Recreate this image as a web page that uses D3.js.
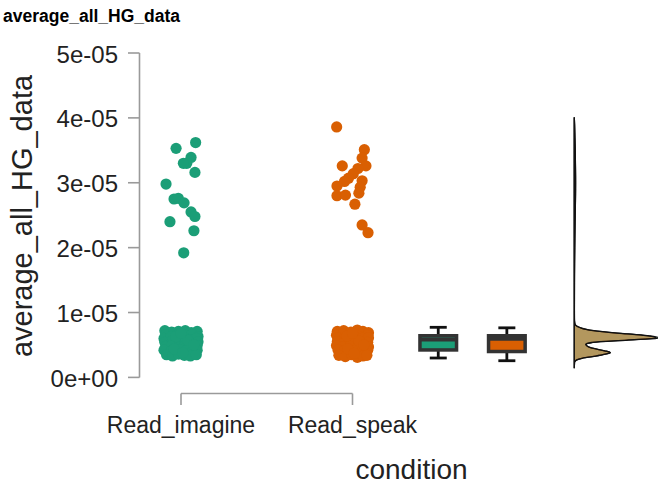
<!DOCTYPE html>
<html>
<head>
<meta charset="utf-8">
<script src="https://cdn.jsdelivr.net/npm/d3@7"></script>
<style>
  html, body { margin: 0; padding: 0; background: #fff; }
  svg { display: block; font-family: "Liberation Sans", Arial, sans-serif; }
</style>
</head>
<body>
<div id="chart"></div>
<script>
// ---- Data (values in units of 1e-6)
const conditions = ['Read_imagine', 'Read_speak'];
const colors = ['#1B9E77', '#D95F02'];
const yTicks = [0, 10, 20, 30, 40, 50];
const yTickLabels = ['0e+00', '1e-05', '2e-05', '3e-05', '4e-05', '5e-05'];

// high values, read point by point
const imagineHighValues = [35.3, 36.2, 33.9, 33.0, 33.0, 31.6, 29.8, 27.5, 27.6, 26.9, 25.5, 24.8, 24.0, 22.6, 19.2];
const imagineHighJitter = [-0.29, 0.86, 0.59, 0.34, 0.14, 0.82, -0.88, -0.41, -0.16, 0.18, 0.59, 0.82, -0.65, 0.76, 0.16];
const speakHighValues = [38.6, 35.1, 33.8, 32.6, 32.6, 32.2, 31.4, 30.7, 30.2, 30.3, 29.5, 29.3, 28.4, 28.0, 28.1, 26.7, 23.5, 22.3];
const speakHighJitter = [-0.99, 0.74, 0.60, -0.64, 0.84, 0.34, 0.05, -0.25, -0.50, 0.60, -0.97, 0.48, 0.40, -0.97, -0.44, 0.15, 0.60, 0.97];

// dense low cluster
const imagineLowValues = [
  7.2, 7.0, 7.1, 7.2, 6.9, 7.1,
  6.6, 6.4, 6.7, 6.5, 6.6, 6.3,
  6.0, 6.2, 5.9, 6.1, 5.8, 6.0,
  5.4, 5.6, 5.3, 5.5, 5.2, 5.5,
  4.8, 4.9, 4.6, 4.8, 4.7, 4.9,
  4.2, 4.0, 4.3, 4.1, 3.9, 4.2,
  3.5, 3.3, 3.6, 3.4, 3.3, 3.5,
  6.3, 5.7, 4.4, 3.8, 6.8, 5.0
];
const imagineLowJitter = [
  -0.95, -0.55, -0.15, 0.25, 0.6, 0.95,
  -0.9, -0.5, -0.1, 0.3, 0.65, 1.0,
  -1.0, -0.6, -0.2, 0.2, 0.55, 0.9,
  -0.95, -0.5, -0.15, 0.25, 0.6, 1.0,
  -0.9, -0.55, -0.2, 0.2, 0.6, 0.95,
  -1.0, -0.6, -0.1, 0.3, 0.65, 0.95,
  -0.85, -0.5, -0.15, 0.2, 0.55, 0.9,
  -0.3, 0.4, -0.4, 0.1, 0.0, 0.75
];
const speakLowValues = [
  7.1, 7.2, 7.0, 7.3, 7.1, 6.9,
  6.5, 6.7, 6.4, 6.6, 6.3, 6.5,
  6.1, 5.9, 6.2, 5.8, 6.0, 6.1,
  5.5, 5.3, 5.6, 5.4, 5.2, 5.4,
  4.9, 4.7, 4.8, 4.6, 4.9, 4.7,
  4.2, 4.1, 3.9, 4.3, 4.0, 4.2,
  3.4, 3.2, 3.5, 3.1, 3.3, 3.4,
  6.4, 5.6, 4.4, 3.7, 6.8, 5.0
];
const speakLowJitter = [
  -0.95, -0.55, -0.1, 0.3, 0.65, 1.0,
  -1.0, -0.6, -0.2, 0.2, 0.6, 0.95,
  -0.9, -0.5, -0.15, 0.25, 0.6, 1.0,
  -0.95, -0.55, -0.2, 0.2, 0.65, 0.95,
  -1.0, -0.6, -0.15, 0.3, 0.6, 1.0,
  -0.9, -0.5, -0.1, 0.25, 0.6, 0.95,
  -0.85, -0.45, -0.05, 0.3, 0.65, 0.9,
  -0.35, 0.4, -0.3, 0.1, 0.0, 0.7
];

// box summaries
const boxLow = [2.99, 2.57];
const boxQ1 = [4.23, 3.99];
const boxMedian = [5.84, 5.96];
const boxQ3 = [6.42, 6.42];
const boxHigh = [7.72, 7.64];

// density outline
const densityGrid = [1.4, 2.0, 2.4, 2.7, 3.0, 3.2, 3.5, 3.8, 4.1, 4.5, 4.8, 5.1, 5.4, 5.75, 6.1, 6.4, 6.7, 7.2, 7.6, 8.1, 8.6, 9.5, 12, 16, 20, 24, 27, 29, 31, 33, 35, 37, 39, 40.1];
const densityImagine = [0, 0.002, 0.006, 0.03, 0.11, 0.22, 0.35, 0.44, 0.37, 0.22, 0.16, 0.145, 0.23, 0.66, 1.04, 0.92, 0.66, 0.24, 0.09, 0.015, 0.004, 0.002, 0.002, 0.003, 0.006, 0.01, 0.014, 0.016, 0.016, 0.014, 0.012, 0.008, 0.004, 0];
const densitySpeak = [0, 0.002, 0.006, 0.03, 0.11, 0.22, 0.35, 0.44, 0.37, 0.22, 0.16, 0.14, 0.22, 0.64, 1.0, 0.9, 0.64, 0.23, 0.085, 0.012, 0.004, 0.002, 0.002, 0.003, 0.006, 0.01, 0.014, 0.016, 0.016, 0.014, 0.012, 0.008, 0.004, 0];

// ---- Layout
const width = 658, height = 486;
const svg = d3.select('#chart').append('svg')
  .attr('width', width).attr('height', height);

const y = d3.scaleLinear().domain([0, 50]).range([377.4, 53]);
// horizontal slot positions: 1, 2 = point columns, then boxes and density
const x = d3.scaleLinear().domain([1, 2]).range([181, 352.5]);
const boxSlots = [2.5, 2.9];
const densitySlot = 3.293;
const jitterHalf = [17, 16];
const dens = d3.scaleLinear().domain([0, 1]).range([0, 82]);

// ---- Title
svg.append('text')
  .attr('x', 3).attr('y', 22)
  .style('font-size', '17.5px').style('font-weight', 'bold').attr('fill', '#000')
  .text('average_all_HG_data');

// ---- Y axis
const axisColor = '#9a9a9a';
svg.append('line')
  .attr('x1', 139.5).attr('x2', 139.5)
  .attr('y1', y(0)).attr('y2', y(50))
  .attr('stroke', axisColor).attr('stroke-width', 1.6);
const yt = svg.append('g').selectAll('g').data(yTicks).join('g');
yt.append('line')
  .attr('x1', 128).attr('x2', 139.5)
  .attr('y1', d => y(d)).attr('y2', d => y(d))
  .attr('stroke', axisColor).attr('stroke-width', 1.6);
yt.append('text')
  .attr('x', 118).attr('y', d => y(d) + 9.5)
  .attr('text-anchor', 'end')
  .style('font-size', '24px').attr('fill', '#222')
  .text((d, i) => yTickLabels[i]);

svg.append('text')
  .attr('transform', `translate(32, 216) rotate(-90)`)
  .attr('text-anchor', 'middle')
  .style('font-size', '29px').attr('fill', '#222')
  .text('average_all_HG_data');

// ---- X axis
svg.append('line')
  .attr('x1', x(1)).attr('x2', x(2))
  .attr('y1', 393.5).attr('y2', 393.5)
  .attr('stroke', axisColor).attr('stroke-width', 1.6);
svg.append('g').selectAll('line').data(conditions).join('line')
  .attr('x1', (d, i) => x(i + 1)).attr('x2', (d, i) => x(i + 1))
  .attr('y1', 393.5).attr('y2', 405)
  .attr('stroke', axisColor).attr('stroke-width', 1.6);
svg.append('g').selectAll('text').data(conditions).join('text')
  .attr('x', (d, i) => x(i + 1)).attr('y', 432.5)
  .attr('text-anchor', 'middle')
  .style('font-size', '23px').attr('fill', '#222')
  .text(d => d);
svg.append('text')
  .attr('x', 411.5).attr('y', 479)
  .attr('text-anchor', 'middle')
  .style('font-size', '28px').attr('fill', '#222')
  .text('condition');

// ---- Points
const groups = [
  { vals: imagineLowValues.concat(imagineHighValues), jit: imagineLowJitter.concat(imagineHighJitter) },
  { vals: speakLowValues.concat(speakHighValues), jit: speakLowJitter.concat(speakHighJitter) }
];
groups.forEach((g, gi) => {
  const pts = g.vals.map((v, i) => ({ v, j: g.jit[i] }));
  svg.append('g').selectAll('circle').data(pts).join('circle')
    .attr('cx', d => x(gi + 1) + d.j * jitterHalf[gi])
    .attr('cy', d => y(d.v))
    .attr('r', 5.6)
    .attr('fill', colors[gi]);
});

// ---- Boxplots
const boxW = 36.6, capW = 17, boxStroke = '#333';
conditions.forEach((c, i) => {
  const cx = x(boxSlots[i]);
  const g = svg.append('g');
  g.append('line')
    .attr('x1', cx).attr('x2', cx).attr('y1', y(boxHigh[i])).attr('y2', y(boxLow[i]))
    .attr('stroke', '#111').attr('stroke-width', 2.8);
  [boxHigh[i], boxLow[i]].forEach(v => {
    g.append('line')
      .attr('x1', cx - capW / 2).attr('x2', cx + capW / 2)
      .attr('y1', y(v)).attr('y2', y(v))
      .attr('stroke', '#111').attr('stroke-width', 2.8);
  });
  g.append('rect')
    .attr('x', cx - boxW / 2).attr('width', boxW)
    .attr('y', y(boxQ3[i])).attr('height', y(boxQ1[i]) - y(boxQ3[i]))
    .attr('fill', colors[i]).attr('stroke', boxStroke).attr('stroke-width', 3.5);
  g.append('line')
    .attr('x1', cx - boxW / 2).attr('x2', cx + boxW / 2)
    .attr('y1', y(boxMedian[i])).attr('y2', y(boxMedian[i]))
    .attr('stroke', boxStroke).attr('stroke-width', 4);
});

// ---- Density (side panel)
const x0 = x(densitySlot);
const area = d3.area()
  .y(d => y(d[0]))
  .x0(x0)
  .x1(d => x0 + dens(d[1]))
  .curve(d3.curveCatmullRom);
[densityImagine, densitySpeak].forEach((dv, i) => {
  svg.append('path')
    .datum(densityGrid.map((g, k) => [g, dv[k]]))
    .attr('d', area)
    .attr('fill', colors[i]).attr('fill-opacity', 0.5)
    .attr('stroke', '#111').attr('stroke-width', 1.3);
});
</script>
</body>
</html>
